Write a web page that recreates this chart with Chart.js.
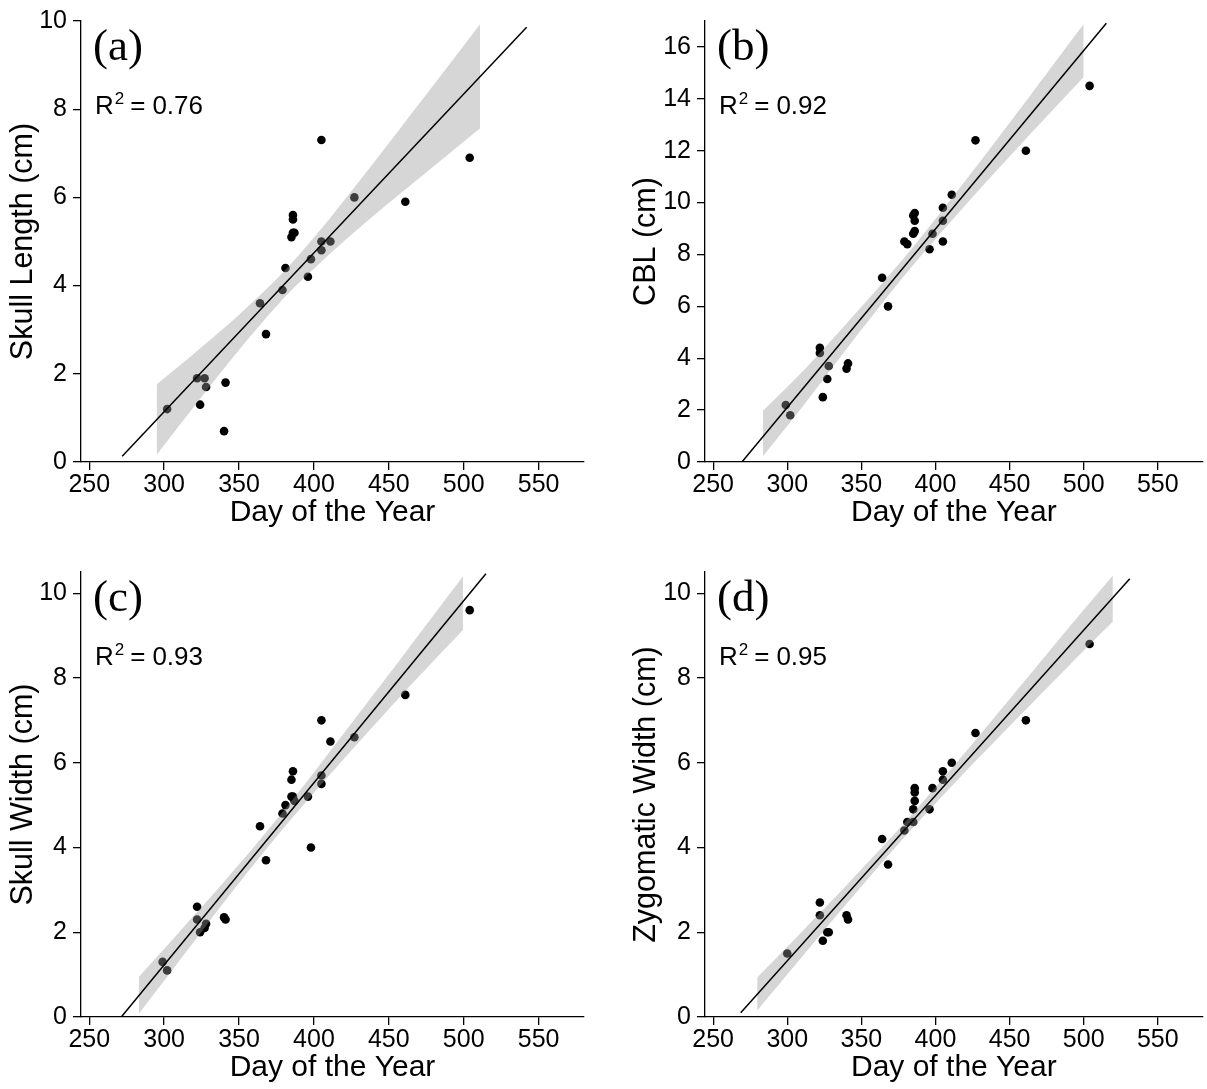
<!DOCTYPE html>
<html>
<head>
<meta charset="utf-8">
<script src="https://cdn.jsdelivr.net/npm/chart.js@4.4.1/dist/chart.umd.min.js"></script>
<style>
  body { margin: 0; background: #fff; }
  #wrap { position: relative; width: 1207px; height: 1089px; }
  canvas { position: absolute; }
</style>
</head>
<body>
<div id="wrap">
  <canvas id="pa" width="604" height="545" style="left:0;top:0"></canvas>
  <canvas id="pb" width="603" height="545" style="left:604px;top:0"></canvas>
  <canvas id="pc" width="604" height="544" style="left:0;top:545px"></canvas>
  <canvas id="pd" width="603" height="544" style="left:604px;top:545px"></canvas>
</div>
<script>
// day of the year ticks, shared by all panels
var xTicks = [250, 300, 350, 400, 450, 500, 550];

// (a) skull length
var xA = [302, 322, 327, 328, 324, 341, 340, 364, 368, 379, 381, 386, 386, 386, 385, 387, 396, 398, 405, 405, 405, 411, 427, 461, 504];
var yA = [1.2, 1.9, 1.9, 1.7, 1.3, 1.8, 0.7, 3.6, 2.9, 3.9, 4.4, 5.6, 5.5, 5.2, 5.1, 5.2, 4.2, 4.6, 7.3, 5.0, 4.8, 5.0, 6.0, 5.9, 6.9];
var fitXA = [272, 542];
var fitYA = [0.13, 9.86];
var bandXA = [295, 320, 350, 380, 410, 440, 470, 511];
var bandLoA = [0.16, 1.26, 2.54, 3.72, 4.70, 5.59, 6.43, 7.57];
var bandHiA = [1.76, 2.46, 3.34, 4.32, 5.50, 6.79, 8.11, 9.93];
var yTicksA = [0, 2, 4, 6, 8, 10];

// (b) CBL
var xB = [299, 302, 322, 322, 328, 327, 324, 341, 340, 364, 368, 379, 381, 385, 386, 386, 385, 386, 396, 398, 405, 405, 405, 411, 427, 461, 504];
var yB = [2.2, 1.8, 4.4, 4.2, 3.7, 3.2, 2.5, 3.8, 3.6, 7.1, 6.0, 8.5, 8.4, 8.8, 8.9, 9.6, 9.5, 9.3, 8.2, 8.8, 9.8, 9.3, 8.5, 10.3, 12.4, 12.0, 14.5];
var fitXB = [269.4, 515.3];
var fitYB = [0, 16.91];
var bandXB = [283.6, 310, 340, 382, 420, 460, 500];
var bandLoB = [0.22, 2.11, 4.36, 7.39, 9.89, 12.39, 14.84];
var bandHiB = [1.98, 3.47, 5.34, 8.09, 10.83, 13.83, 16.88];
var yTicksB = [0, 2, 4, 6, 8, 10, 12, 14, 16];

// (c) skull width
var xC = [299, 302, 322, 322, 324, 327, 328, 340, 341, 364, 368, 379, 381, 385, 386, 385, 386, 387, 396, 398, 405, 405, 405, 411, 427, 461, 504];
var yC = [1.3, 1.1, 2.6, 2.3, 2.0, 2.1, 2.2, 2.35, 2.3, 4.5, 3.7, 4.8, 5.0, 5.6, 5.8, 5.2, 5.2, 5.1, 5.2, 4.0, 7.0, 5.7, 5.5, 6.5, 6.6, 7.6, 9.6];
var fitXC = [271.4, 514.8];
var fitYC = [0, 10.46];
var bandXC = [283.2, 310, 340, 370, 400, 430, 460, 499.5];
var bandLoC = [0.08, 1.32, 2.71, 4.04, 5.29, 6.48, 7.65, 9.13];
var bandHiC = [0.95, 2.00, 3.19, 4.44, 5.77, 7.16, 8.55, 10.40];
var yTicksC = [0, 2, 4, 6, 8, 10];

// (d) zygomatic width
var xD = [300, 322, 322, 324, 327, 328, 340, 341, 364, 368, 379, 381, 385, 385, 386, 386, 386, 396, 398, 405, 405, 411, 427, 461, 504];
var yD = [1.5, 2.7, 2.4, 1.8, 2.0, 2.0, 2.4, 2.3, 4.2, 3.6, 4.4, 4.6, 4.6, 4.9, 5.1, 5.3, 5.4, 4.9, 5.4, 5.8, 5.6, 6.0, 6.7, 7.0, 8.8];
var fitXD = [268.6, 531.1];
var fitYD = [0.1, 10.34];
var bandXD = [279.7, 310, 340, 378, 420, 460, 490, 519.7];
var bandLoD = [0.15, 1.42, 2.67, 4.20, 5.78, 7.22, 8.29, 9.33];
var bandHiD = [0.93, 2.02, 3.11, 4.54, 6.24, 7.92, 9.19, 10.42];
var yTicksD = [0, 2, 4, 6, 8, 10];

var SANS = "'Liberation Sans', Arial, sans-serif";
var SERIF = "'Liberation Serif', 'Times New Roman', serif";

function pts(xs, ys) {
  return xs.map(function (v, i) { return { x: v, y: ys[i] }; });
}

// panel tag and R^2 text
var panelText = {
  id: 'panelText',
  afterDraw: function (chart, args, o) {
    var ctx = chart.ctx, ca = chart.chartArea;
    ctx.save();
    ctx.fillStyle = '#000';
    ctx.textBaseline = 'alphabetic';
    ctx.textAlign = 'left';
    ctx.font = '45px ' + SERIF;
    ctx.fillText(o.tag, ca.left + 12, ca.top + 39);

    var x = ca.left + 14, y = ca.top + 93;
    ctx.font = '26px ' + SANS;
    ctx.fillText('R', x, y);
    x += ctx.measureText('R').width + 1;
    ctx.font = '17px ' + SANS;
    ctx.fillText('2', x, y - 10);
    x += ctx.measureText('2').width + 6;
    ctx.font = '26px ' + SANS;
    ctx.fillText('=', x, y);
    x += ctx.measureText('=').width + 7;
    ctx.fillText(o.r2, x, y);
    ctx.restore();
  }
};

function panel(id, p) {
  var datasets = [
    { data: pts(p.x, p.y), showLine: false, pointRadius: 4.3, pointBackgroundColor: '#000', pointBorderWidth: 0, order: 3 },
    { data: pts(p.bx, p.lo), showLine: true, borderWidth: 0, borderColor: 'rgba(0,0,0,0)', pointRadius: 0, fill: false, tension: 0.3, order: 2 },
    { data: pts(p.bx, p.hi), showLine: true, borderWidth: 0, borderColor: 'rgba(0,0,0,0)', pointRadius: 0, fill: '-1', backgroundColor: 'rgba(153,153,153,0.4)', tension: 0.3, order: 2 },
    { data: pts(p.fx, p.fy), showLine: true, borderColor: '#000', borderWidth: 1.5, pointRadius: 0, fill: false, order: 1 }
  ];

  new Chart(document.getElementById(id), {
    type: 'scatter',
    data: { datasets: datasets },
    plugins: [panelText],
    options: {
      responsive: false,
      animation: false,
      layout: { padding: { top: p.pt, right: p.pr, left: 0, bottom: 0 } },
      plugins: {
        legend: { display: false },
        tooltip: { enabled: false },
        panelText: { tag: p.tag, r2: p.r2 }
      },
      scales: {
        x: {
          type: 'linear', min: 244.5, max: 580.3,
          afterBuildTicks: function (s) { s.ticks = xTicks.map(function (v) { return { value: v }; }); },
          afterFit: function (s) { s.height = p.xh; },
          ticks: { color: '#000', font: { family: SANS, size: 25 }, padding: 0, maxRotation: 0, autoSkip: false,
                   callback: function (v) { return String(v); } },
          grid: { drawOnChartArea: false, drawTicks: true, tickLength: 8, color: '#000', lineWidth: 1.3 },
          border: { display: true, color: '#000', width: 1.3 },
          title: { display: true, text: 'Day of the Year', color: '#000', font: { family: SANS, size: 30 },
                   padding: { top: 0, bottom: p.xtp } }
        },
        y: {
          type: 'linear', min: 0, max: p.ymax,
          afterBuildTicks: function (s) { s.ticks = p.yt.map(function (v) { return { value: v }; }); },
          afterFit: function (s) { s.width = p.yw; },
          ticks: { color: '#000', font: { family: SANS, size: 25 }, padding: 6,
                   callback: function (v) { return String(v); } },
          grid: { drawOnChartArea: false, drawTicks: true, tickLength: 8, color: '#000', lineWidth: 1.3 },
          border: { display: true, color: '#000', width: 1.3 },
          title: { display: true, text: p.ylab, color: '#000', font: { family: SANS, size: 30.5 },
                   padding: { top: p.ytp, bottom: 0 } }
        }
      }
    }
  });
}

panel('pa', { x: xA, y: yA, fx: fitXA, fy: fitYA, bx: bandXA, lo: bandLoA, hi: bandHiA, yt: yTicksA, ymax: 10,
  ylab: 'Skull Length (cm)', tag: '(a)', r2: '0.76', pt: 21, pr: 20, yw: 81, ytp: 5, xh: 83, xtp: 14 });
panel('pb', { x: xB, y: yB, fx: fitXB, fy: fitYB, bx: bandXB, lo: bandLoB, hi: bandHiB, yt: yTicksB, ymax: 17,
  ylab: 'CBL (cm)', tag: '(b)', r2: '0.92', pt: 20, pr: 0, yw: 101, ytp: 24, xh: 83, xtp: 14 });
panel('pc', { x: xC, y: yC, fx: fitXC, fy: fitYC, bx: bandXC, lo: bandLoC, hi: bandHiC, yt: yTicksC, ymax: 10.5,
  ylab: 'Skull Width (cm)', tag: '(c)', r2: '0.93', pt: 27, pr: 20, yw: 81, ytp: 5, xh: 72, xtp: 3 });
panel('pd', { x: xD, y: yD, fx: fitXD, fy: fitYD, bx: bandXD, lo: bandLoD, hi: bandHiD, yt: yTicksD, ymax: 10.5,
  ylab: 'Zygomatic Width (cm)', tag: '(d)', r2: '0.95', pt: 27, pr: 0, yw: 101, ytp: 24, xh: 72, xtp: 3 });
</script>
</body>
</html>
